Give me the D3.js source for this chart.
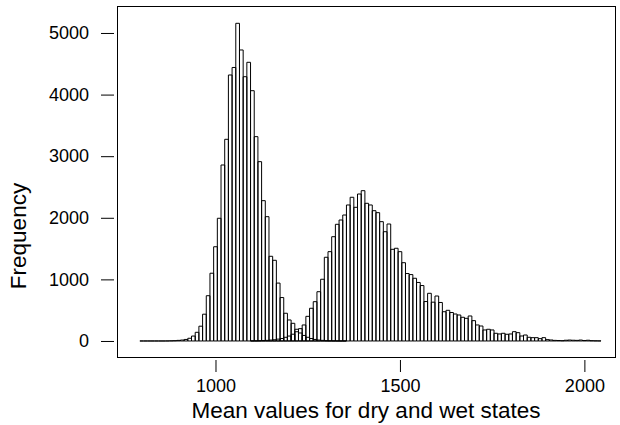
<!DOCTYPE html>
<html>
<head>
<meta charset="utf-8">
<script src="https://cdn.jsdelivr.net/npm/d3@7"></script>
<style>
  html, body { margin: 0; padding: 0; background: #fff; }
  svg { display: block; }
  text { font-family: "Liberation Sans", Arial, sans-serif; fill: #000; }
</style>
</head>
<body>
<svg id="chart" width="620" height="425"></svg>
<script>
// ---- data ----
const binWidth = 10;
const dryStart = 800;   // centre of first dry bin
const dryCounts = [0,0,0,0,0,0,0,1,3,5,10,15,25,44,80,141,240,435,735,1100,
  1530,1992,2857,3274,4318,4440,5157,4724,4290,4524,4063,3317,2911,2278,2018,1375,
  1310,940,705,450,341,287,190,130,90,60,40,25,15,10,5,3,2,1,0,0];
const wetStart = 1100;  // centre of first wet bin
const wetCounts = [2,3,5,8,10,15,20,30,40,60,80,110,150,200,260,400,531,638,800,1002,
  1359,1450,1693,1894,1964,2045,2208,2333,2170,2386,2440,2235,2208,2115,2083,1937,1774,1899,
  1488,1505,1450,1271,1095,1078,1018,950,900,640,774,630,730,625,475,498,462,438,422,385,
  368,406,330,260,243,179,190,179,125,114,125,109,114,151,135,81,97,60,54,54,38,54,22,16,
  10,8,5,12,15,12,10,15,8,12,5,3,2];
const xTicks = [1000, 1500, 2000];
const yTicks = [0, 1000, 2000, 3000, 4000, 5000];
const xLabel = "Mean values for dry and wet states";
const yLabel = "Frequency";

// ---- layout ----
const box = {left: 117, right: 615, top: 6, bottom: 357};
const x = d3.scaleLinear().domain([733, 2083]).range([box.left, box.right]);
const y = d3.scaleLinear().domain([-260, 5438]).range([box.bottom, box.top]);

const svg = d3.select("#chart");

function bins(start, counts) {
  return counts.map((n, i) => ({c: start + i * binWidth, n}));
}
const allBins = bins(dryStart, dryCounts).concat(bins(wetStart, wetCounts));

svg.append("g").selectAll("path").data(allBins).join("path")
  .attr("d", d => {
    const x0 = x(d.c - binWidth / 2), x1 = x(d.c + binWidth / 2);
    const y0 = y(0), y1 = y(d.n);
    return `M${x0},${y0}V${y1}H${x1}V${y0}Z`;
  })
  .attr("fill", "none")
  .attr("stroke", "#000")
  .attr("stroke-width", 1);

// box
svg.append("rect")
  .attr("x", box.left + 0.5).attr("y", box.top + 0.5)
  .attr("width", box.right - box.left).attr("height", box.bottom - box.top)
  .attr("fill", "none").attr("stroke", "#000").attr("stroke-width", 1);

// x axis
const gx = svg.append("g").attr("transform", `translate(0,${box.bottom + 3})`)
  .call(d3.axisBottom(x).tickValues(xTicks).tickSize(12).tickPadding(7).tickFormat(d3.format("d")));
gx.select(".domain").remove();
gx.selectAll("text").style("font-size", "18px").attr("font-family", null);

// y axis
const gy = svg.append("g").attr("transform", `translate(${box.left - 3},0)`)
  .call(d3.axisLeft(y).tickValues(yTicks).tickSize(13).tickPadding(12).tickFormat(d3.format("d")));
gy.select(".domain").remove();
gy.selectAll("text").style("font-size", "18px").attr("font-family", null);

// titles
svg.append("text").attr("x", 366).attr("y", 418).attr("text-anchor", "middle")
  .style("font-size", "22.5px").text(xLabel);
svg.append("text").attr("transform", "translate(26,236) rotate(-90)").attr("text-anchor", "middle")
  .style("font-size", "22.5px").text(yLabel);
</script>
</body>
</html>
